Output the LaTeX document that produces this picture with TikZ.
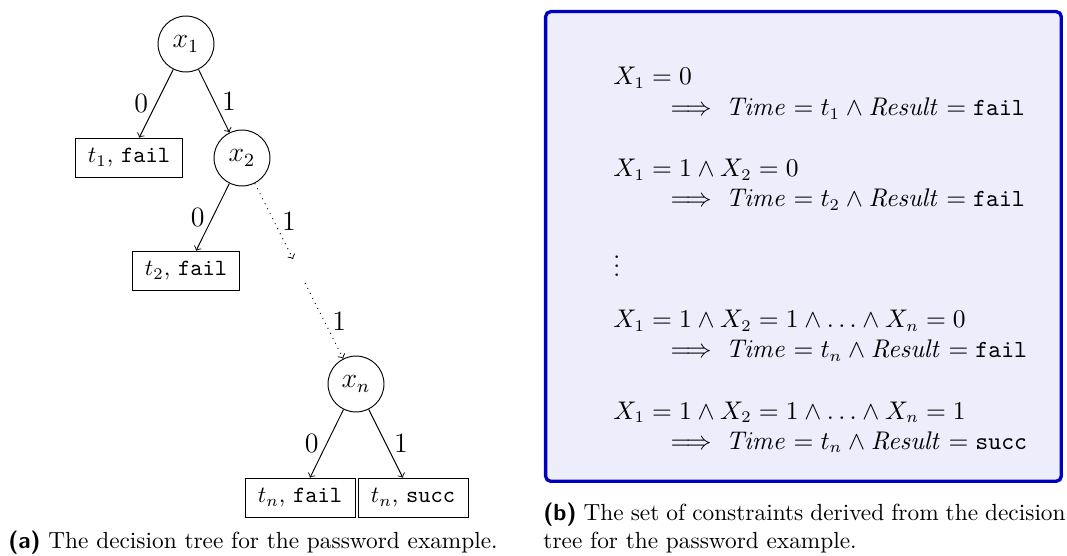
\documentclass[tikz,border=0pt]{standalone}
\usepackage{amsmath}
\definecolor{frameblue}{RGB}{0,0,195}
\definecolor{backblue}{RGB}{237,237,252}
\tikzset{
  dnode/.style={circle,draw,minimum size=24pt,inner sep=0pt,font=\large},
  leaf/.style={rectangle,draw,minimum height=17pt,inner xsep=5.5pt,inner ysep=0pt},
  tedge/.style={->},
  dedge/.style={->,dotted},
  elabel/.style={font=\large,midway},
  cline/.style={anchor=base west,inner sep=0pt,font=\fontsize{10.55}{12.7}\selectfont},
  captext/.style={anchor=base west,inner sep=0pt},
  panel/.style={draw=frameblue,fill=backblue,line width=1.42pt,rounded corners=2.2pt}
}
\begin{document}
\begin{tikzpicture}[x=0.429pt,y=-0.429pt]
\useasboundingbox (0,0) rectangle (1067,556);
% tree
\node[dnode] (x1) at (186,44) {$x_1$};
\node[dnode] (x2) at (242,158) {$x_2$};
\node[leaf] (t1) at (129,158) {$t_1$, \texttt{fail}};
\node[leaf] (t2) at (186,271) {$t_2$, \texttt{fail}};
\coordinate (d1) at (293,259);
\coordinate (d2) at (305,283);
\node[dnode] (xn) at (356,384) {$x_n$};
\node[leaf] (tnf) at (300,498) {$t_n$, \texttt{fail}};
\node[leaf] (tns) at (413,498) {$t_n$, \texttt{succ}};
\draw[tedge] (x1) -- node[elabel,left] {0} (t1);
\draw[tedge] (x1) -- node[elabel,right] {1} (x2);
\draw[tedge] (x2) -- node[elabel,left] {0} (t2);
\draw[dedge] (x2) -- node[elabel,right] {1} (d1);
\draw[dedge] (d2) -- node[elabel,right] {1} (xn);
\draw[tedge] (xn) -- node[elabel,left] {0} (tnf);
\draw[tedge] (xn) -- node[elabel,right] {1} (tns);
% constraint panel
\path[panel] (545.6,11.6) rectangle (1061.3,481.3);
\node[cline] (c1a) at (613,85) {$X_1 = 0$};
\node[cline] (c1b) at (663,116) {$\implies \mathit{Time} = t_1 \wedge \mathit{Result} = \texttt{fail}$};
\node[cline] (c2a) at (613,177) {$X_1 = 1 \wedge X_2 = 0$};
\node[cline] (c2b) at (663,207) {$\implies \mathit{Time} = t_2 \wedge \mathit{Result} = \texttt{fail}$};
\node[cline] (cdots) at (613,277) {$\vdots$};
\node[cline] (c3a) at (613,328) {$X_1 = 1 \wedge X_2 = 1 \wedge \ldots \wedge X_n = 0$};
\node[cline] (c3b) at (663,358) {$\implies \mathit{Time} = t_n \wedge \mathit{Result} = \texttt{fail}$};
\node[cline] (c4a) at (613,419) {$X_1 = 1 \wedge X_2 = 1 \wedge \ldots \wedge X_n = 1$};
\node[cline] (c4b) at (663,449) {$\implies \mathit{Time} = t_n \wedge \mathit{Result} = \texttt{succ}$};
% captions
\node[captext] (capa) at (8,548) {\textsf{\textbf{(a)}} The decision tree for the password example.};
\node[captext] (capb1) at (543,520) {\hbox to 224pt{\textsf{\textbf{(b)}} The set of constraints derived from the decision}};
\node[captext] (capb2) at (543,548) {tree for the password example.};
\end{tikzpicture}
\end{document}
